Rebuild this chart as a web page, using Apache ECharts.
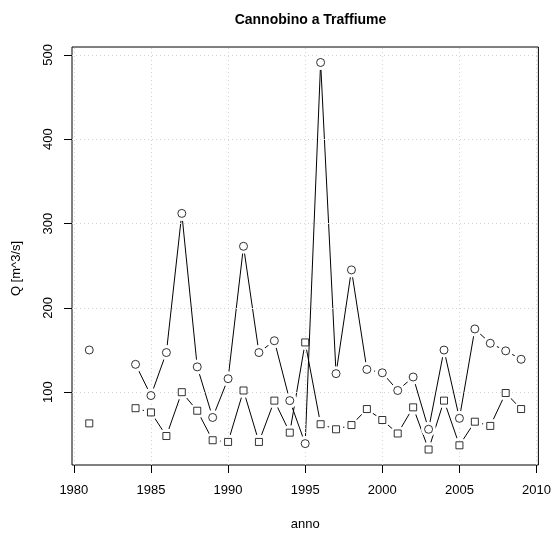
<!DOCTYPE html>
<html>
<head>
<meta charset="utf-8">
<script src="https://cdn.jsdelivr.net/npm/echarts@6/dist/echarts.min.js"></script>
<style>
  html, body { margin: 0; padding: 0; background: #fff; }
  #chart { width: 554px; height: 536px; }
</style>
</head>
<body>
<div id="chart"></div>
<script>
// ---- data ----
const years = [1981, 1982, 1983, 1984, 1985, 1986, 1987, 1988, 1989, 1990,
               1991, 1992, 1993, 1994, 1995, 1996, 1997, 1998, 1999, 2000,
               2001, 2002, 2003, 2004, 2005, 2006, 2007, 2008, 2009];
const qCircle = [150, null, null, 133, 96, 147, 312, 130, 70, 116,
                 273, 147, 161, 90, 39, 491, 122, 245, 127, 123,
                 102, 118, 56, 150, 69, 175, 158, 149, 139];
const qSquare = [63, null, null, 81, 76, 48, 100, 78, 43, 41,
                 102, 41, 90, 52, 159, 62, 56, 61, 80, 67,
                 51, 82, 32, 90, 37, 65, 60, 99, 80];
const xTicks = [1980, 1985, 1990, 1995, 2000, 2005, 2010];
const yTicks = [100, 200, 300, 400, 500];
const titleText = 'Cannobino a Traffiume';
const xName = 'anno';
const yName = 'Q [m^3/s]';

// R-style axis extents (4% padding around data range)
const xVals = years;
const yAll = qCircle.concat(qSquare).filter(v => v !== null);
const xPad = (Math.max(...xVals) - Math.min(...xVals)) * 0.04;
const yPad = (Math.max(...yAll) - Math.min(...yAll)) * 0.04;
const xMin = Math.min(...xVals) - xPad, xMax = Math.max(...xVals) + xPad;
const yMin = Math.min(...yAll) - yPad, yMax = Math.max(...yAll) + yPad;

const pairs = arr => years.map((y, i) => [y, arr[i]]);
const pts = arr => years.map((y, i) => [y, arr[i]]).filter(p => p[1] !== null);

const FONT = '"Liberation Sans", Arial, Helvetica, sans-serif';
const gridL = 72, gridR = 15, gridT = 47, gridB = 70;

const chart = echarts.init(document.getElementById('chart'), null, { renderer: 'canvas' });

const lineSeries = (arr, z) => ({
  type: 'line', data: pairs(arr), symbol: 'none', connectNulls: false,
  lineStyle: { color: '#000', width: 1 }, z: z, silent: true, animation: false
});
const maskSeries = (arr, z) => ({
  type: 'scatter', data: pts(arr), symbol: 'circle', symbolSize: 15,
  itemStyle: { color: '#fff', opacity: 1 }, z: z, silent: true, animation: false
});
const symSeries = (arr, shape, size) => ({
  type: 'scatter', data: pts(arr), symbol: shape, symbolSize: size,
  itemStyle: { color: '#fff', borderColor: '#000', borderWidth: 1 }, z: 7,
  silent: true, animation: false
});

chart.setOption({
  animation: false,
  backgroundColor: '#fff',
  title: {
    text: titleText,
    left: gridL + (554 - gridL - gridR) / 2,
    textAlign: 'center',
    top: 8,
    textStyle: { fontFamily: FONT, fontSize: 14, fontWeight: 'bold', color: '#000' }
  },
  grid: {
    left: gridL, right: gridR, top: gridT, bottom: gridB,
    show: true, borderColor: '#000', borderWidth: 1, backgroundColor: 'transparent'
  },
  xAxis: {
    type: 'value', min: xMin, max: xMax,
    name: xName, nameLocation: 'middle', nameGap: 53,
    nameTextStyle: { fontFamily: FONT, fontSize: 13, color: '#000' },
    axisLine: { show: false },
    axisTick: { show: true, length: 8, inside: false, customValues: xTicks,
                lineStyle: { color: '#000', width: 1 } },
    axisLabel: { customValues: xTicks, margin: 19, fontFamily: FONT, fontSize: 13, color: '#000',
                 formatter: v => String(v) },
    splitLine: { show: false }
  },
  yAxis: {
    type: 'value', min: yMin, max: yMax,
    name: yName, nameLocation: 'middle', nameGap: 49, nameRotate: 90,
    nameTextStyle: { fontFamily: FONT, fontSize: 13, color: '#000', padding: [0, 25, 0, 0] },
    axisLine: { show: false },
    axisTick: { show: true, length: 8, inside: false, customValues: yTicks,
                lineStyle: { color: '#000', width: 1 } },
    axisLabel: { customValues: yTicks, rotate: 90, margin: 17, fontFamily: FONT, fontSize: 13, color: '#000',
                 formatter: v => String(v) },
    splitLine: { show: false }
  },
  series: [
    lineSeries(qSquare, 2),
    maskSeries(qSquare, 3),
    lineSeries(qCircle, 4),
    maskSeries(qCircle, 5),
    {
      type: 'line', data: [], z: 6, silent: true, animation: false,
      markLine: {
        silent: true, symbol: ['none', 'none'], label: { show: false },
        lineStyle: { color: '#d3d3d3', type: [1, 3], width: 1 },
        data: xTicks.map(v => ({ xAxis: v })).concat(yTicks.map(v => ({ yAxis: v })))
      }
    },
    symSeries(qSquare, 'rect', 7),
    symSeries(qCircle, 'circle', 8)
  ]
});
</script>
</body>
</html>
